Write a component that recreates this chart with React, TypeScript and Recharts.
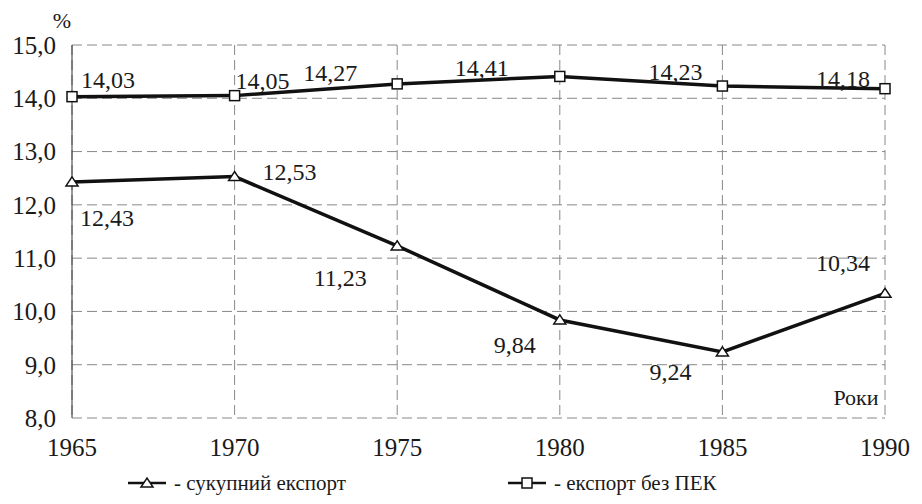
import { LineChart, Line, XAxis, YAxis, CartesianGrid } from 'recharts';

const years = ['1965', '1970', '1975', '1980', '1985', '1990'];
const totalExport = [12.43, 12.53, 11.23, 9.84, 9.24, 10.34];
const exportNoPek = [14.03, 14.05, 14.27, 14.41, 14.23, 14.18];
const yTicks = [8, 9, 10, 11, 12, 13, 14, 15];

// label placement relative to the point (dx, dy of text centre)
const totalLabelPos = [[35, 36], [55, -5], [-57, 32], [-45, 25], [-52, 20], [-42, -30]];
const noPekLabelPos = [[36, -17], [28, -15], [-67, -11], [-78, -8], [-47, -14], [-42, -10]];

const data = years.map((y, i) => ({ year: y, total: totalExport[i], noPek: exportNoPek[i] }));

const FONT = "'Liberation Serif', 'Times New Roman', Times, serif";
const INK = '#1a1a1a';
const fmt = (v: number) => v.toFixed(2).replace('.', ',');

function Triangle({ cx, cy }: { cx?: number; cy?: number }) {
  if (cx == null || cy == null) return null;
  return <path d={`M${cx - 6},${cy + 4} L${cx + 6},${cy + 4} L${cx},${cy - 5} Z`} fill="#fff" stroke="#111" strokeWidth={1.5} />;
}

function Square({ cx, cy }: { cx?: number; cy?: number }) {
  if (cx == null || cy == null) return null;
  return <rect x={cx - 5} y={cy - 5} width={10} height={10} fill="#fff" stroke="#111" strokeWidth={1.5} />;
}

function makeLabel(pos: number[][]) {
  return (props: any) => {
    const { x, y, value, index } = props;
    const [dx, dy] = pos[index] || [0, -12];
    return (
      <text x={x + dx} y={y + dy} textAnchor="middle" dominantBaseline="central" fontSize={24} style={{ fontFamily: FONT }} fill={INK}>
        {fmt(value)}
      </text>
    );
  };
}

function LegendItem({ x, label, square }: { x: number; label: string; square?: boolean }) {
  const y = 483;
  return (
    <g>
      <line x1={x} y1={y} x2={x + 38} y2={y} stroke="#111" strokeWidth={2.5} />
      {square ? <Square cx={x + 19} cy={y} /> : <Triangle cx={x + 19} cy={y} />}
      <text x={x + 46} y={y} dominantBaseline="central" fontSize={21} style={{ fontFamily: FONT }} fill={INK}>
        {label}
      </text>
    </g>
  );
}

export default function App() {
  return (
    <div style={{ margin: -8, width: 922, height: 504, background: '#fff', fontFamily: FONT }}>
      <LineChart width={922} height={504} data={data} margin={{ top: 45, right: 37, left: 0, bottom: 0 }} style={{ fontFamily: FONT }}>
        <CartesianGrid strokeDasharray="10 5" stroke="#888" strokeWidth={1} />
        <XAxis
          dataKey="year"
          axisLine={false}
          tickLine={false}
          tickSize={0}
          tickMargin={20}
          height={86}
          interval={0}
          tick={{ fontSize: 25, fill: INK, style: { fontFamily: FONT } }}
        />
        <YAxis
          domain={[8, 15]}
          ticks={yTicks}
          width={72}
          axisLine={{ stroke: '#333' }}
          tickLine={false}
          tickSize={0}
          tickMargin={16}
          tickFormatter={(v: number) => v.toFixed(1).replace('.', ',')}
          tick={{ fontSize: 25, fill: INK, style: { fontFamily: FONT } }}
        />
        <Line
          dataKey="noPek"
          stroke="#111"
          strokeWidth={3.5}
          dot={<Square />}
          activeDot={false}
          label={makeLabel(noPekLabelPos)}
          isAnimationActive={false}
        />
        <Line
          dataKey="total"
          stroke="#111"
          strokeWidth={3.5}
          dot={<Triangle />}
          activeDot={false}
          label={makeLabel(totalLabelPos)}
          isAnimationActive={false}
        />
        <text x={62} y={20} textAnchor="middle" dominantBaseline="central" fontSize={22} style={{ fontFamily: FONT }} fill={INK}>%</text>
        <text x={856} y={397} textAnchor="middle" dominantBaseline="central" fontSize={22} style={{ fontFamily: FONT }} fill={INK}>Роки</text>
        <LegendItem x={128} label="- сукупний експорт" />
        <LegendItem x={508} label="- експорт без ПЕК" square />
      </LineChart>
    </div>
  );
}
